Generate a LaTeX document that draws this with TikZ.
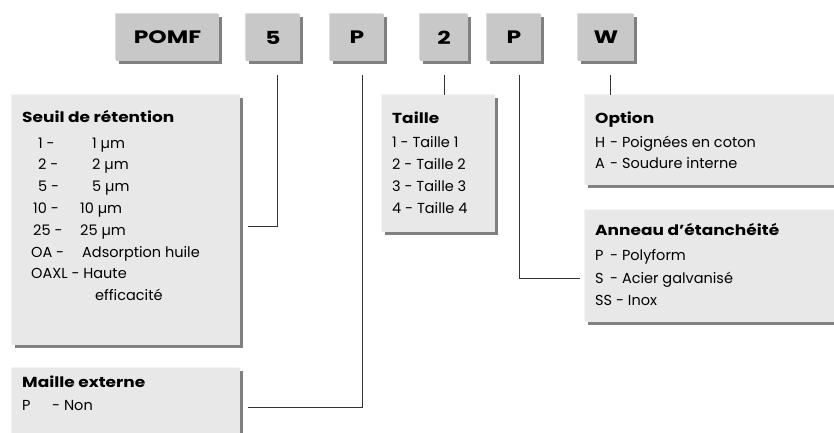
\documentclass[tikz,border=0pt]{standalone}
\usepackage{fontspec}
\setmainfont{Poppins}[BoldFeatures={FakeStretch=1.17}]
\newfontfamily\topfont{Poppins}[UprightFont=*-Bold, FakeStretch=1.3]
\usetikzlibrary{shadows}
\definecolor{topgray}{HTML}{C8C8C8}
\definecolor{boxgray}{HTML}{E8E8E8}
\definecolor{shgray}{HTML}{808080}
\definecolor{hlgray}{HTML}{DDDDDD}
\definecolor{hllight}{HTML}{F4F4F4}
\definecolor{linegray}{HTML}{333333}
\tikzset{
  topbox/.style={fill=topgray, inner sep=0pt, minimum height=47pt,
    font=\topfont\fontsize{18}{20}\selectfont,
    general shadow={fill=hlgray, shadow xshift=-1.5pt, shadow yshift=1.5pt},
    drop shadow={fill=shgray, opacity=1, shadow xshift=3pt, shadow yshift=-3pt}},
  descbox/.style={fill=boxgray, inner sep=0pt, anchor=north west,
    general shadow={fill=hllight, shadow xshift=-1.5pt, shadow yshift=1.5pt},
    drop shadow={fill=shgray, opacity=1, shadow xshift=3pt, shadow yshift=-3pt}},
  txt/.style={inner sep=0pt, anchor=base west, font=\fontsize{14.5}{16}\selectfont},
  ttl/.style={txt, font=\bfseries\fontsize{14.5}{16}\selectfont},
  conn/.style={draw=linegray, line width=0.8pt}
}
\begin{document}
\begin{tikzpicture}[x=1pt,y=-1pt]
\useasboundingbox (0,0) rectangle (834,432);
\clip (0,0) rectangle (834,432);
% top code boxes
\node[topbox, minimum width=103pt] (pomf) at (167.5,37.5) {POMF};
\node[topbox, minimum width=54pt] (b5) at (273,37.5) {5};
\node[topbox, minimum width=54pt] (bP) at (357,37.5) {P};
\node[topbox, minimum width=48pt] (b2) at (444,37.5) {2};
\node[topbox, minimum width=54pt] (bP2) at (514,37.5) {P};
\node[topbox, minimum width=56pt] (bW) at (606,37.5) {W};
% description boxes
\node[descbox, minimum width=228pt, minimum height=250pt] (seuil) at (12,95) {};
\node[descbox, minimum width=228pt, minimum height=80pt] (maille) at (12,368) {};
\node[descbox, minimum width=113pt, minimum height=137pt] (taille) at (382,95) {};
\node[descbox, minimum width=260pt, minimum height=90pt] (opt) at (585,95) {};
\node[descbox, minimum width=260pt, minimum height=112pt] (ann) at (585,210) {};
% Seuil texts
\node[ttl] (s0) at (22,122) {Seuil de rétention};
\node[txt] (s1) at (22,148) {\hspace*{16pt}\makebox[54pt][l]{1 -}1 µm};
\node[txt] (s2) at (22,169.8) {\hspace*{16pt}\makebox[54pt][l]{2 -}2 µm};
\node[txt] (s3) at (22,191.6) {\hspace*{16pt}\makebox[54pt][l]{5 -}5 µm};
\node[txt] (s4) at (22,213.4) {\hspace*{11pt}\makebox[47pt][l]{10 -}10 µm};
\node[txt] (s5) at (22,235.2) {\hspace*{11pt}\makebox[47pt][l]{25 -}25 µm};
\node[txt] (s6) at (22,257) {\hspace*{9pt}\makebox[51pt][l]{OA -}Adsorption huile};
\node[txt] (s7) at (22,278.8) {\hspace*{9pt}OAXL - Haute};
\node[txt] (s8) at (22,300.6) {\hspace*{73pt}efficacité};
% Maille texts
\node[ttl] (m0) at (22,387) {Maille externe};
\node[txt] (m1) at (22,410) {\makebox[30pt][l]{P}- Non};
% Taille texts
\node[ttl] (t0) at (392,123) {Taille};
\node[txt] (t1) at (392,147) {1 - Taille 1};
\node[txt] (t2) at (392,169) {2 - Taille 2};
\node[txt] (t3) at (392,191) {3 - Taille 3};
\node[txt] (t4) at (392,213) {4 - Taille 4};
% Option texts
\node[ttl] (o0) at (595,123) {Option};
\node[txt] (o1) at (595,147) {\makebox[15pt][l]{H}- Poignées en coton};
\node[txt] (o2) at (595,168) {\makebox[15pt][l]{A}- Soudure interne};
% Anneau texts
\node[ttl] (a0) at (595,235) {Anneau d’étanchéité};
\node[txt] (a1) at (595,260) {\makebox[15pt][l]{P}- Polyform};
\node[txt] (a2) at (595,283) {\makebox[15pt][l]{S}- Acier galvanisé};
\node[txt] (a3) at (595,305) {SS - Inox};
% connectors
\coordinate (k5) at (277,75);
\coordinate (kP) at (362,75);
\coordinate (k2) at (444,75);
\coordinate (kP2) at (519,75);
\coordinate (kW) at (610,75);
\coordinate (e5) at (248,226);
\coordinate (eP) at (248,407);
\coordinate (eP2) at (580,278);
\draw[conn] (k5) |- (e5);
\draw[conn] (kP) |- (eP);
\draw[conn] (k2) -- (taille.north -| k2);
\draw[conn] (kP2) |- (eP2);
\draw[conn] (kW) -- (opt.north -| kW);
\end{tikzpicture}
\end{document}
